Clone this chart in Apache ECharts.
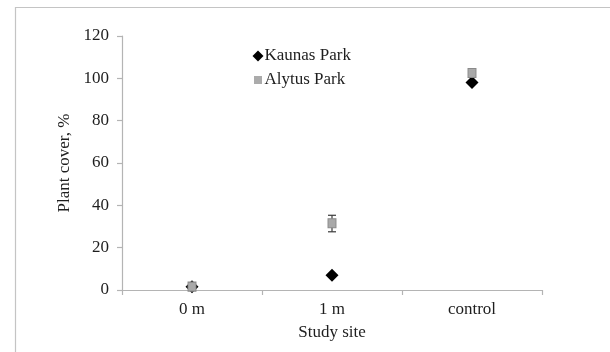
<!DOCTYPE html>
<html>
<head>
<meta charset="utf-8">
<script src="https://cdn.jsdelivr.net/npm/echarts@6/dist/echarts.min.js"></script>
<style>
  html, body { margin: 0; padding: 0; background: #fff; }
  #chart { width: 610px; height: 352px; }
</style>
</head>
<body>
<div id="chart"></div>
<script>
// Study sites along the transect
const sites = ['0 m', '1 m', 'control'];

// Mean plant cover (%) per site
const kaunas = [1.5, 7, 98];
const alytus = [1.6, 31.5, 102.5];

// Error bar limits for Alytus Park (lower, upper)
const alytusLow = [0.3, 27.5, 100.8];
const alytusHigh = [2.9, 35.3, 104.2];

const yTicks = { min: 0, max: 120, step: 20 };

const FONT = 'Liberation Serif';
const TEXT = '#1e1e1e';
const AXIS = '#b4b4b4';
const FS = 17;

const chart = echarts.init(document.getElementById('chart'), null, { renderer: 'canvas' });

const errorData = sites.map((s, i) => [i, alytusLow[i], alytusHigh[i]]);

chart.setOption({
  animation: false,
  backgroundColor: '#fff',
  graphic: [{
    type: 'rect',
    shape: { x: 15.5, y: 7.5, width: 800, height: 600 },
    style: { fill: 'none', stroke: '#c4c4c4', lineWidth: 1.2 },
    silent: true,
    z: -1
  }],
  grid: { left: 122, right: 68, top: 36, bottom: 62 },
  legend: {
    orient: 'vertical',
    left: 246,
    top: 42,
    itemGap: 6,
    itemWidth: 11,
    itemHeight: 11,
    textStyle: { fontFamily: FONT, fontSize: FS, color: TEXT, lineHeight: 18, padding: [0, 0, 0, -4] },
    data: [
      { name: 'Kaunas Park', icon: 'diamond', itemStyle: { color: '#000', borderWidth: 0 } },
      { name: 'Alytus Park', icon: 'rect', itemStyle: { color: '#ababab', borderColor: '#fff', borderWidth: 3 } }
    ]
  },
  xAxis: {
    type: 'category',
    data: sites,
    boundaryGap: true,
    name: 'Study site',
    nameLocation: 'middle',
    nameGap: 34,
    nameTextStyle: { fontFamily: FONT, fontSize: FS, color: TEXT },
    axisLine: { lineStyle: { color: AXIS, width: 1.2 } },
    axisTick: { show: true, inside: false, length: 5, lineStyle: { color: AXIS, width: 1.2 } },
    axisLabel: { fontFamily: FONT, fontSize: FS, color: TEXT, margin: 11 },
    splitLine: { show: false }
  },
  yAxis: {
    type: 'value',
    min: yTicks.min,
    max: yTicks.max,
    interval: yTicks.step,
    name: 'Plant cover, %',
    nameLocation: 'middle',
    nameGap: 40,
    nameRotate: 90,
    nameTextStyle: { fontFamily: FONT, fontSize: FS, color: TEXT },
    axisLine: { show: true, lineStyle: { color: AXIS, width: 1.2 } },
    axisTick: { show: true, inside: false, length: 5, lineStyle: { color: AXIS, width: 1.2 } },
    axisLabel: { fontFamily: FONT, fontSize: FS, color: TEXT, margin: 13 },
    splitLine: { show: false }
  },
  series: [
    {
      name: 'Kaunas Park',
      type: 'scatter',
      data: kaunas,
      symbol: 'diamond',
      symbolSize: 13,
      itemStyle: { color: '#000', opacity: 1 },
      z: 2
    },
    {
      name: 'Alytus Park error',
      type: 'custom',
      data: errorData,
      encode: { x: 0, y: [1, 2] },
      renderItem: function (params, api) {
        const x = api.value(0);
        const lo = api.coord([x, api.value(1)]);
        const hi = api.coord([x, api.value(2)]);
        const cap = 4;
        const style = { stroke: '#3a3a3a', lineWidth: 1.2 };
        return {
          type: 'group',
          children: [
            { type: 'line', shape: { x1: lo[0], y1: lo[1], x2: hi[0], y2: hi[1] }, style: style },
            { type: 'line', shape: { x1: lo[0] - cap, y1: lo[1], x2: lo[0] + cap, y2: lo[1] }, style: style },
            { type: 'line', shape: { x1: hi[0] - cap, y1: hi[1], x2: hi[0] + cap, y2: hi[1] }, style: style }
          ]
        };
      },
      z: 3,
      silent: true
    },
    {
      name: 'Alytus Park',
      type: 'scatter',
      data: alytus,
      symbol: 'rect',
      symbolSize: [8, 9],
      itemStyle: { color: '#a9a9a9', borderColor: '#8a8a8a', borderWidth: 1, opacity: 1 },
      z: 4
    }
  ]
});
</script>
</body>
</html>
